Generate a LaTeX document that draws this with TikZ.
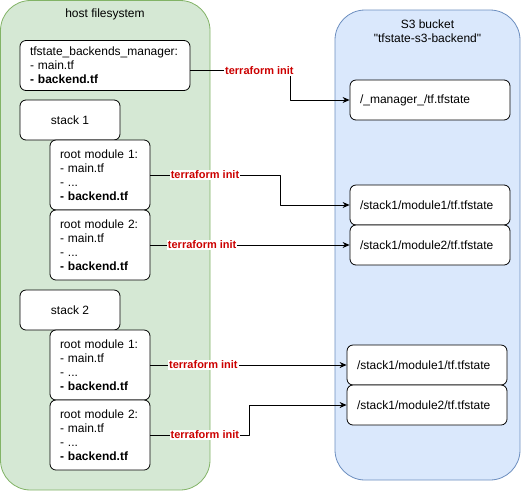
\documentclass[tikz,border=0pt]{standalone}
\usepackage{fontspec}
\setmainfont{Liberation Sans}
\newfontfamily\plainfont{Liberation Sans}
\usetikzlibrary{arrows.meta}
\definecolor{hostfill}{HTML}{D5E8D4}
\definecolor{hostline}{HTML}{82B366}
\definecolor{bucketfill}{HTML}{DAE8FC}
\definecolor{bucketline}{HTML}{6C8EBF}
\definecolor{cmdred}{HTML}{CC0000}
\tikzset{
	host/.style={draw=hostline, fill=hostfill, rounded corners=30pt},
	bucket/.style={draw=bucketline, fill=bucketfill, rounded corners=30pt},
	module/.style={draw, fill=white, rounded corners=6pt, inner sep=0pt, minimum width=100pt, minimum height=70pt, text width=80pt, align=left},
	stackbox/.style={draw, fill=white, rounded corners=6pt, minimum width=100pt, minimum height=40pt},
	statebox/.style={draw, fill=white, rounded corners=6pt, inner sep=0pt, minimum width=160pt, minimum height=40pt, text width=140pt, align=left},
	cmd/.style={fill=white, text=cmdred, font=\fontsize{11}{13}\selectfont\bfseries, inner sep=1pt}
}
\begin{document}
\begin{tikzpicture}[x=1pt, y=-1pt, >={Stealth[length=7pt, width=6pt]}, line width=0.8pt, line join=round, font=\fontsize{12}{14}\selectfont]
	\useasboundingbox (0,0) rectangle (521,491);
	\draw[host] (0.5,0.5) rectangle (210,490);
	\draw[bucket] (335,10) rectangle (520,480);
	\node (hosttitle) at (105,14) {host filesystem};
	\node[align=center] (buckettitle) at (427.5,31) {S3 bucket\\{\plainfont"tfstate-s3-backend"}};
	% host side
	\node[module, minimum width=170pt, minimum height=50pt, text width=150pt] (mgr) at (105,65.5)
		{tfstate\_backends\_manager:\\- main.tf\\\textbf{- backend.tf}};
	\node[stackbox] (stack1) at (70,120) {stack 1};
	\node[stackbox] (stack2) at (70,310) {stack 2};
	\foreach \s/\y in {s1/175, s2/365}{
		\node[module] (\s rm1) at (100,\y) {root module 1:\\- main.tf\\- ...\\\textbf{- backend.tf}};
		\node[module] (\s rm2) at (100,\y+70) {root module 2:\\- main.tf\\- ...\\\textbf{- backend.tf}};
	}
	% bucket side
	\node[statebox] (mgrstate) at (430,100) {/\_manager\_/tf.tfstate};
	\node[statebox] (s1m1) at (430,205) {/stack1/module1/tf.tfstate};
	\node[statebox] (s1m2) at (430,245) {/stack1/module2/tf.tfstate};
	\node[statebox] (s2m1) at (427,365) {/stack1/module1/tf.tfstate};
	\node[statebox] (s2m2) at (427,405) {/stack1/module2/tf.tfstate};
	% terraform init
	\draw[->] ([yshift=-5pt]mgr.east) -- node[cmd, pos=.69] {terraform init} ++(100,0) |- (mgrstate.west);
	\draw[->] (s1rm1.east) -- node[cmd, pos=.42] {terraform init} ++(130,0) |- (s1m1.west);
	\draw[->] (s1rm2.east) -- node[cmd, pos=.26] {terraform init} (s1m2.west);
	\draw[->] (s2rm1.east) -- node[cmd, pos=.27] {terraform init} (s2m1.west);
	\draw[->] (s2rm2.east) -- node[cmd, pos=.55] {terraform init} ++(99,0) |- (s2m2.west);
\end{tikzpicture}
\end{document}
